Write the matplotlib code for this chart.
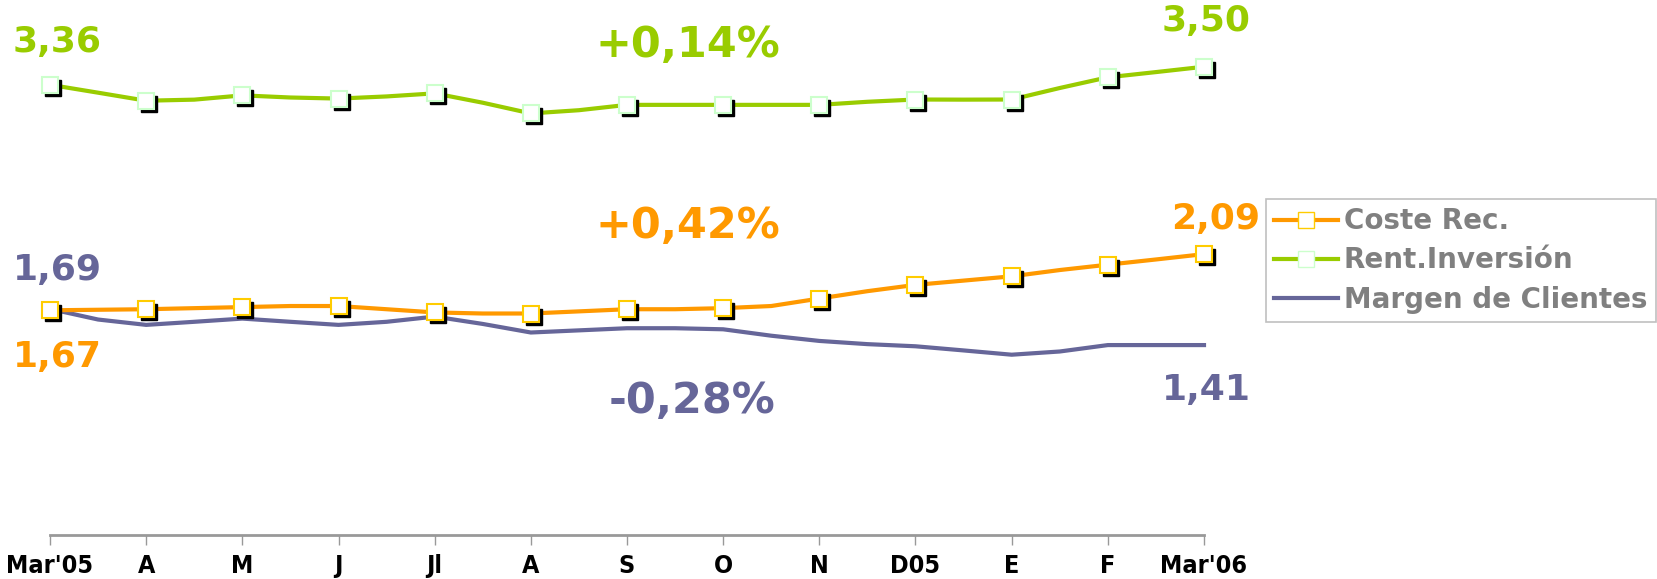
import matplotlib.pyplot as plt
import matplotlib.transforms as mtransforms
from matplotlib.lines import Line2D
import numpy as np

# month labels and values (half-month steps for the lines, markers on months)
months = ["Mar'05", "A", "M", "J", "Jl", "A", "S", "O", "N", "D05", "E", "F", "Mar'06"]
x_half = np.arange(0, 12.5, 0.5)

rent = [3.366, 3.307, 3.247, 3.255, 3.287, 3.271, 3.263, 3.279, 3.302, 3.232,
        3.152, 3.176, 3.216, 3.216, 3.216, 3.216, 3.216, 3.239, 3.256, 3.255,
        3.256, 3.342, 3.422, 3.461, 3.501]
coste = [1.680, 1.684, 1.688, 1.696, 1.704, 1.712, 1.712, 1.688, 1.664, 1.656,
         1.656, 1.672, 1.688, 1.688, 1.696, 1.712, 1.768, 1.823, 1.870, 1.902,
         1.934, 1.981, 2.021, 2.060, 2.100]
margen = [1.690, 1.611, 1.571, 1.594, 1.618, 1.594, 1.571, 1.594, 1.633, 1.578,
          1.514, 1.530, 1.546, 1.546, 1.538, 1.490, 1.451, 1.427, 1.411, 1.380,
          1.348, 1.372, 1.420, 1.420, 1.420]

c_orange = '#FF9900'
c_green = '#99CC00'
c_purple = '#666699'

W, H = 1657, 579
fig = plt.figure(figsize=(W / 100, H / 100), dpi=100)
ax = fig.add_axes([50 / W, 44 / H, (1204 - 50) / W, (H - 44) / H])

shadow = mtransforms.offset_copy(ax.transData, fig=fig, x=3, y=-3, units='dots')
mk = slice(0, None, 2)

ax.plot(x_half, margen, color=c_purple, lw=3, clip_on=False, zorder=2)
for vals, col, edge in [(coste, c_orange, '#FFCC00'), (rent, c_green, '#CCFFCC')]:
    ax.plot(x_half, vals, color=col, lw=3, clip_on=False, zorder=3)
    ax.plot(x_half[mk], vals[mk], ls='none', marker='s', ms=11, color='black',
            transform=shadow, clip_on=False, zorder=4)
    ax.plot(x_half[mk], vals[mk], ls='none', marker='s', ms=11, mfc='white',
            mec=edge, mew=1.5, clip_on=False, zorder=5)

ax.set_xlim(0, 12)
ax.set_ylim(0, 4.0)
ax.set_xticks(range(13))
ax.set_xticklabels(months, fontsize=18, fontweight='bold', fontstretch='condensed')
ax.set_yticks([])
for s in ['top', 'right', 'left']:
    ax.spines[s].set_visible(False)
ax.spines['bottom'].set_color('#999999')
ax.spines['bottom'].set_linewidth(2)
ax.tick_params(axis='x', length=7, color='#999999', width=1, pad=7)

# value annotations
def ftext(px, py, s, col, size=26):
    fig.text(px / W, 1 - py / H, s, color=col, fontsize=size, fontweight='bold',
             ha='left', va='center')

ftext(13, 42, '3,36', c_green)
ftext(595, 45, '+0,14%', c_green, 31)
ftext(1162, 21, '3,50', c_green)
ftext(595, 226, '+0,42%', c_orange, 31)
ftext(1171, 219, '2,09', c_orange)
ftext(13, 270, '1,69', c_purple)
ftext(13, 357, '1,67', c_orange)
ftext(609, 401, '-0,28%', c_purple, 31)
ftext(1162, 390, '1,41', c_purple)

handles = [
    Line2D([], [], color=c_orange, lw=3, marker='s', ms=11, mfc='white', mec='#FFCC00'),
    Line2D([], [], color=c_green, lw=3, marker='s', ms=11, mfc='white', mec='#CCFFCC'),
    Line2D([], [], color=c_purple, lw=3),
]
leg = fig.legend(handles, ['Coste Rec.', 'Rent.Inversión', 'Margen de Clientes'],
                 loc='upper left', bbox_to_anchor=(1266 / W, 1 - 199 / H),
                 borderaxespad=0, fancybox=False, framealpha=1, edgecolor='#C0C0C0',
                 handlelength=2.3, handletextpad=0.2, borderpad=0.3, labelspacing=0.4,
                 prop={'size': 20, 'weight': 'bold'}, labelcolor='#808080')
leg.get_frame().set_linewidth(1.2)

fig.savefig('out.png', dpi=100)
